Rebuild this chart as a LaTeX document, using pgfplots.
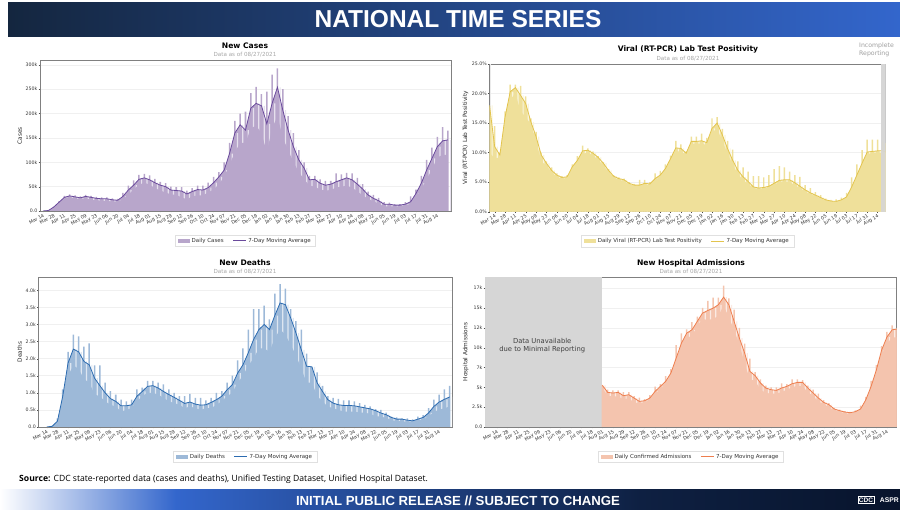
\documentclass[border=0pt]{standalone}
\usepackage{fontspec}
\usepackage{pgfplots}
\usepackage{pgfplotstable}
\pgfplotsset{compat=1.18}
\setmainfont{DejaVu Sans}
\newfontfamily\hdr{Liberation Sans}
\newfontfamily\src{Open Sans}
\definecolor{pf}{HTML}{B8A6CB}\definecolor{pl}{HTML}{6A4A9C}
\definecolor{yf}{HTML}{EFE09A}\definecolor{yl}{HTML}{E3C44E}
\definecolor{bf}{HTML}{9DB9D8}\definecolor{bl}{HTML}{2C6BB0}
\definecolor{of}{HTML}{F4C4AE}\definecolor{ol}{HTML}{EE7E4E}
\definecolor{axg}{HTML}{808080}\definecolor{gridc}{HTML}{F0F0F0}
\definecolor{unav}{HTML}{D6D6D6}

\pgfplotstableread{
d low high ma
0 0 0 0
7 1 1 1
14 7 9 8
21 16 20 18
28 26 31 28
35 28 34 31
42 26 32 29
49 24 30 27
56 26 33 30
63 23 31 28
70 22 29 26
77 21 28 25
84 21 28 25
91 19 26 23
98 19 25 22
105 24 37 30
112 33 52 43
119 44 63 53
126 54 74 65
133 58 76 68
140 54 73 64
147 47 66 58
154 42 60 53
161 38 57 50
168 34 50 43
175 33 49 42
182 28 49 41
189 24 42 35
196 30 47 40
203 32 52 44
210 32 52 43
217 38 58 48
224 44 70 58
231 55 80 70
238 70 100 84
245 95 140 118
252 120 185 160
259 140 200 177
266 140 204 166
273 170 242 211
280 175 255 221
287 160 240 216
294 120 245 179
301 170 280 221
308 195 293 254
315 150 250 207
322 125 195 166
329 100 160 132
336 80 125 105
343 65 100 88
350 52 72 64
357 50 72 65
364 44 65 57
371 42 62 53
378 43 62 55
385 48 77 60
392 50 75 64
399 52 78 68
406 48 77 64
413 40 68 55
420 32 55 45
427 25 40 33
434 20 33 26
441 15 27 21
448 9 18 14
455 10 17 14
462 9 14 12
469 10 14 12
476 12 18 14
483 14 30 19
490 28 44 36
497 45 72 57
504 65 105 84
511 85 130 108
518 110 152 132
525 115 172 144
532 115 165 146
}\casesT

\pgfplotstableread{
d low high ma
-7 10 18 18
0 9 14.5 11
7 9.2 10 9.6
14 15 17 16
21 19 21.5 20.3
28 20 21.5 21
35 17 21.3 19.7
42 16 19.5 18.3
49 14.8 15.8 15.2
56 12 13.5 12.7
63 8.5 10 9.6
70 7.8 8.5 8.2
77 6.7 7.5 7
84 5.9 6.5 6.2
91 5.6 6 5.8
98 5.7 6.2 5.9
105 7 8 7.6
112 8.3 9.4 8.7
119 9.8 11.2 10.3
126 10 10.7 10.4
133 9.5 10.2 9.9
140 8.8 9.4 9.2
147 7.8 8.4 8.2
154 6.7 7.2 7.0
161 5.8 6.2 6.0
168 5.4 5.8 5.6
175 5.2 5.6 5.4
182 4.6 5 4.8
189 4.4 4.7 4.5
196 4.4 5.4 4.5
203 4.6 5.4 4.8
210 4.5 5 4.7
217 5.3 6.5 5.6
224 5.9 6.9 6.2
231 7 8 7.3
238 8.5 9.5 9
245 10.2 12 10.8
252 10.2 11.4 10.7
259 9.6 10.2 9.9
266 11.4 12.7 11.9
273 11.5 12.7 11.9
280 11.5 13.2 12
287 11.3 12.5 11.7
294 13.5 15.8 14.1
301 14 16 15
308 12 14 13
315 9.8 12 10.7
322 8 10.5 8.7
329 6.4 8.5 7
336 5.3 7.5 5.9
343 4.7 6.8 5.1
350 4 6 4.2
357 3.8 6 4
364 3.9 5.8 4.1
371 4.1 6.2 4.3
378 4.5 7.2 4.8
385 5 7.7 5.3
392 5.1 7.5 5.4
399 5 6.8 5.4
406 4.5 6.2 4.9
413 4 5.9 4.3
420 3.4 4.5 3.7
427 3 4 3.2
434 2.6 3.3 2.8
441 2.3 2.8 2.4
448 1.9 2.2 2
455 1.7 2 1.8
462 1.7 2.1 1.75
469 1.9 2.4 2
476 2.4 3.2 2.5
483 4 5.8 4.2
490 5.9 8 6.2
497 7.8 10.4 8.2
504 9.8 12.2 10.1
511 9.9 12.2 10.2
518 10 12.2 10.3
525 10 11.8 10.3
529 10 11.6 10.1
}\posT

\pgfplotstableread{
d low high ma
0 0 0 0
7 .02 .03 .02
14 .12 .25 .17
21 .7 1.1 .9
28 1.5 2.2 1.87
35 1.8 2.7 2.28
42 1.7 2.65 2.2
49 1.4 2.35 1.92
56 1.3 2.45 1.82
63 .95 1.8 1.43
70 .9 1.8 1.21
77 .75 1.3 1.0
84 .65 1.05 .83
91 .6 .95 .75
98 .45 .8 .62
105 .5 .75 .62
112 .55 .8 .65
119 .75 1.1 .9
126 .9 1.15 1.04
133 1.0 1.35 1.19
140 1.0 1.35 1.21
147 .95 1.3 1.14
154 .85 1.25 1.04
161 .75 1.1 .95
168 .7 1.0 .87
175 .65 .9 .78
182 .55 .9 .69
189 .6 .97 .73
196 .55 .85 .67
203 .5 .85 .64
210 .55 .78 .65
217 .55 .85 .72
224 .65 1.0 .8
231 .75 1.05 .9
238 .9 1.3 1.09
245 1.0 1.5 1.24
252 1.3 1.95 1.58
259 1.5 2.3 1.82
266 1.8 2.85 2.17
273 2.0 3.45 2.56
280 2.3 3.45 2.85
287 2.3 3.55 3.0
294 2.2 3.15 2.85
301 2.6 3.9 3.26
308 2.85 4.18 3.63
315 2.7 4.05 3.58
322 2.4 3.45 3.19
329 2.1 3.1 2.75
336 1.7 2.85 2.26
343 1.3 2.15 1.78
350 1.3 1.75 1.76
357 .9 1.6 1.29
364 .75 1.2 1.04
371 .6 .9 .8
378 .55 .85 .7
385 .5 .82 .65
392 .45 .78 .63
399 .45 .78 .63
406 .45 .75 .62
413 .42 .7 .59
420 .42 .65 .56
427 .38 .6 .53
434 .32 .52 .48
441 .3 .5 .41
448 .27 .42 .36
455 .2 .3 .28
462 .17 .28 .23
469 .17 .25 .23
476 .15 .25 .2
483 .16 .22 .18
490 .2 .3 .23
497 .22 .35 .28
504 .3 .55 .41
511 .45 .8 .6
518 .5 .95 .73
525 .55 1.1 .81
532 .6 1.2 .88
}\deathsT

\pgfplotstableread{
d low high ma
140 4.9 5.3 5.24
147 3.9 4.7 4.36
154 3.9 4.6 4.28
161 3.8 4.6 4.36
168 3.5 4.4 3.94
175 3.6 4.4 4.07
182 3.1 3.9 3.65
189 3 3.7 3.23
196 3.1 3.5 3.31
203 3.4 4.0 3.65
210 4.1 5.1 4.49
217 4.8 5.4 5.12
224 5.4 6.4 5.75
231 6.4 7.3 6.8
238 8.3 10.3 8.68
245 10.2 11.8 10.57
252 11.2 12.3 11.83
259 11.5 13.2 12.25
266 12.7 13.9 13.3
273 13.6 15 14.35
280 13.5 15.9 14.68
287 13.6 16.3 14.97
294 14 16.3 15.4
301 15.3 17.8 16.36
308 13.8 16.2 15.4
315 12.2 14.8 13.3
322 10.4 12.5 11.2
329 8 10.5 9.31
336 6 8.6 7.0
343 5.8 6.9 6.46
350 4.7 6 5.54
357 4.3 5.2 4.91
364 4.2 5 4.7
371 4.2 5 4.61
378 4.4 5.5 4.91
385 4.7 5.4 5.12
392 5 6 5.45
399 5.2 6 5.62
406 5.1 5.9 5.62
413 4.4 5.2 4.91
420 3.9 4.7 4.28
427 3.2 4.2 3.65
434 2.9 3.4 3.1
441 2.5 3 2.81
448 2.1 2.4 2.27
455 1.9 2.2 2.06
462 1.7 2 1.89
469 1.7 1.9 1.8
476 1.8 2.1 1.93
483 2.1 2.7 2.27
490 3.2 3.8 3.44
497 4.8 5.8 5.12
504 6.8 7.8 7.2
511 9 10.2 9.7
518 10.5 12 11.33
525 11.3 12.8 12.25
531 11.3 12.5 12.33
}\hospT

\pgfplotsset{panel/.style={
  scale only axis, axis line style={axg,line width=.7pt},
  ymin=0, tick pos=left, tick align=outside, major tick length=1.5pt,
  tick style={black!70,line width=.25pt},
  xtick={0,14,...,518},
  xticklabels={Mar 14,Mar 28,Apr 11,Apr 25,May 09,May 23,Jun 06,Jun 20,Jul 04,Jul 18,Aug 01,Aug 15,Aug 29,Sep 12,Sep 26,Oct 10,Oct 24,Nov 07,Nov 21,Dec 05,Dec 19,Jan 02,Jan 16,Jan 30,Feb 13,Feb 27,Mar 13,Mar 27,Apr 10,Apr 24,May 08,May 22,Jun 05,Jun 19,Jul 03,Jul 17,Jul 31,Aug 14},
  xticklabel style={font=\fontsize{4.7}{5}\selectfont,rotate=30,anchor=north east,inner sep=.6pt,text=black!80},
  yticklabel style={font=\fontsize{4.7}{5}\selectfont,inner sep=1pt,text=black!80},
  ylabel style={font=\fontsize{5.8}{6}\selectfont,text=black!85},
  ymajorgrids, grid style={gridc,line width=.5pt},
  legend style={at={(0.5,-0.158)},anchor=north,font=\fontsize{5.5}{6}\selectfont,
    draw=black!12,line width=.4pt,inner xsep=3pt,inner ysep=1pt,text=black!80,
    legend columns=2,/tikz/every even column/.append style={column sep=7pt},
    /tikz/column 2/.style={column sep=8pt}},
  legend cell align=left,
}}

\newcommand{\series}[3]{%
  \addplot[fill=#2,draw=none,forget plot] table[x=d,y=ma]{#1} \closedcycle;
  \addplot[ybar,bar width=1.6,bar shift=0pt,fill=#2!35!white,draw=none,forget plot] table[x expr=\thisrow{d}+3.5,y=ma]{#1};
  \addplot[fill=#2,draw=none,forget plot] table[x=d,y=low]{#1} \closedcycle;
  \addplot[ybar,bar width=2,bar shift=0pt,fill=#2,draw=none,forget plot] table[x=d,y=high]{#1};
  \addplot[color=#3,line width=.8pt,forget plot] table[x=d,y=ma]{#1};
}
\newcommand{\keys}[4]{%
  \addlegendimage{legend image code/.code={\fill[#1] (0pt,-1.6pt) rectangle (11pt,1.6pt);}}
  \addlegendentry{#3}
  \addlegendimage{legend image code/.code={\draw[#2,line width=.7pt] (0pt,0pt) -- (13pt,0pt);}}
  \addlegendentry{#4}
}

\begin{document}
\begin{tikzpicture}[x=1pt,y=1pt]
\path[use as bounding box] (0,0) rectangle (900,510);
% header
\shade[left color={rgb,255:red,20;green,38;blue,63},
  middle color={rgb,255:red,31;green,67;blue,127},right color={rgb,255:red,51;green,102;blue,204}] (8,473) rectangle (900,507);
\node[font=\hdr\bfseries\fontsize{24.5}{26}\selectfont,text=white] at (458,490.5) {NATIONAL TIME SERIES};
% footer
\shade[left color=white,right color={rgb,255:red,51;green,102;blue,204}] (0,0) rectangle (176,20);
\shade[left color={rgb,255:red,51;green,102;blue,204},right color={rgb,255:red,14;green,32;blue,66}] (176,0) rectangle (640,20);
\shade[left color={rgb,255:red,14;green,32;blue,66},right color={rgb,255:red,8;green,20;blue,44}] (640,0) rectangle (900,20);
\node[font=\hdr\bfseries\fontsize{13.2}{14}\selectfont,text=white] at (458,9) {INITIAL PUBLIC RELEASE // SUBJECT TO CHANGE};
\node[font=\hdr\bfseries\fontsize{6.5}{8}\selectfont,text=white,draw=white,line width=.4pt,inner sep=1pt] at (866,10) {CDC};
\node[font=\hdr\bfseries\fontsize{6.8}{9}\selectfont,text=white,anchor=east,inner sep=0pt] at (899,10) {ASPR};
% source
\node[anchor=west,inner sep=0pt,font=\src\fontsize{8.6}{10}\selectfont] at (19,31) {\textbf{Source:} CDC state-reported data (cases and deaths), Unified Testing Dataset, Unified Hospital Dataset.};

% titles
\node[font=\bfseries\fontsize{7.6}{9}\selectfont] at (245,464) {New Cases};
\node[font=\fontsize{5.6}{7}\selectfont,text=black!35] at (245,455.5) {Data as of 08/27/2021};
\node[font=\bfseries\fontsize{7.6}{9}\selectfont] at (688,460.5) {Viral (RT-PCR) Lab Test Positivity};
\node[font=\fontsize{5.6}{7}\selectfont,text=black!35] at (688,451) {Data as of 08/27/2021};
\node[font=\bfseries\fontsize{7.6}{9}\selectfont] at (245,247) {New Deaths};
\node[font=\fontsize{5.6}{7}\selectfont,text=black!35] at (245,238) {Data as of 08/27/2021};
\node[font=\bfseries\fontsize{7.6}{9}\selectfont] at (691,247) {New Hospital Admissions};
\node[font=\fontsize{5.6}{7}\selectfont,text=black!35] at (691,238) {Data as of 08/27/2021};
\node[font=\fontsize{6.2}{8.4}\selectfont,text=black!38,align=left,anchor=west,inner sep=0pt] at (859,460) {Incomplete\\Reporting};

% Cases
\begin{axis}[panel,at={(40pt,299pt)},anchor=south west,width=411pt,height=150.5pt,
  xmin=-4,xmax=536,ymax=309,
  ytick={0,50,100,150,200,250,300},yticklabels={0.0,50k,100k,150k,200k,250k,300k},
  ylabel={Cases},ylabel shift=-1pt]
\series{\casesT}{pf}{pl}
\keys{pf}{pl}{Daily Cases}{7-Day Moving Average}
\end{axis}

% Positivity
\begin{axis}[panel,at={(489.5pt,298.3pt)},anchor=south west,width=396.2pt,height=147.7pt,
  xmin=-7,xmax=529,ymax=25,
  ytick={0,5,10,15,20,25},yticklabels={0.0\%,5.0\%,10.0\%,15.0\%,20.0\%,25.0\%},
  ylabel={Viral (RT-PCR) Lab Test Positivity},ylabel shift=-1pt]
\fill[unav] (axis cs:523,0) rectangle (axis cs:529,25);
\fill[unav!50] (axis cs:-7,0) rectangle (axis cs:-5.5,25);
\series{\posT}{yf}{yl}
\fill[unav,opacity=.9] (axis cs:523,0) rectangle (axis cs:529,25);
\keys{yf}{yl}{Daily Viral (RT-PCR) Lab Test Positivity}{7-Day Moving Average}
\end{axis}

% Deaths
\begin{axis}[panel,at={(38.5pt,83pt)},anchor=south west,width=413.5pt,height=150pt,
  xmin=-11,xmax=535,ymax=4.39,
  ytick={0,.5,1,1.5,2,2.5,3,3.5,4},yticklabels={0.0,0.5k,1.0k,1.5k,2.0k,2.5k,3.0k,3.5k,4.0k},
  ylabel={Deaths},ylabel shift=-1pt]
\series{\deathsT}{bf}{bl}
\keys{bf}{bl}{Daily Deaths}{7-Day Moving Average}
\end{axis}

% Hospital
\begin{axis}[panel,at={(485pt,83pt)},anchor=south west,width=411.7pt,height=150pt,
  xmin=-16,xmax=531,ymax=18.9,
  ytick={0,2.5,5,7.5,10,12.5,15,17.5},yticklabels={0.0,2.5k,5k,7k,10k,12k,15k,17k},
  ylabel={Hospital Admissions},ylabel shift=-1pt]
\fill[unav] (axis cs:-16,0) rectangle (axis cs:140,18.9);
\series{\hospT}{of}{ol}
\node[font=\fontsize{6.8}{8}\selectfont,align=center,text=black!75] at (axis cs:60,10.2) {Data Unavailable\hspace{10pt}\\ due to Minimal Reporting};
\keys{of}{ol}{Daily Confirmed Admissions}{7-Day Moving Average}
\end{axis}
\end{tikzpicture}
\end{document}
